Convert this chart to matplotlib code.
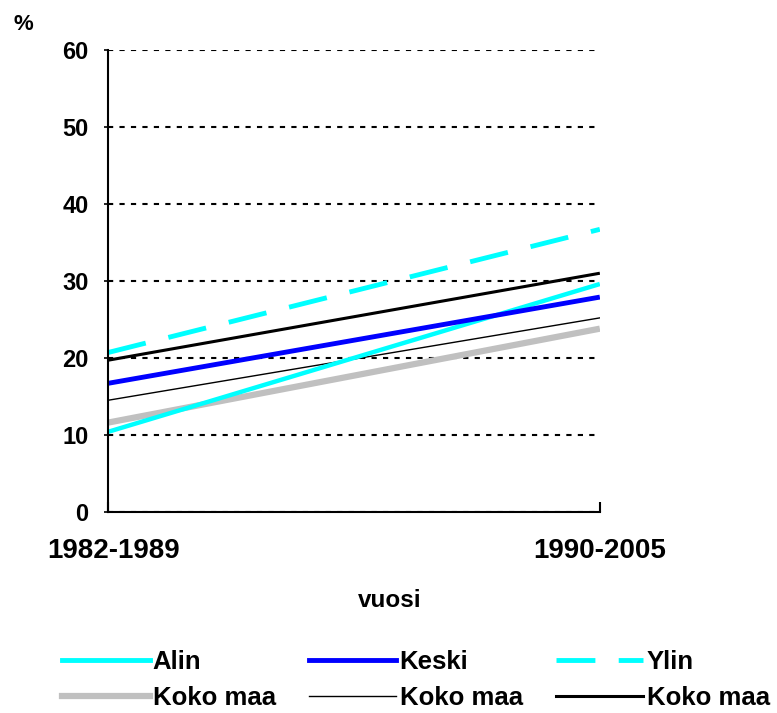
import matplotlib.pyplot as plt
import matplotlib.transforms as mtransforms
from matplotlib.lines import Line2D

plt.rcParams['font.family'] = ['Liberation Sans', 'DejaVu Sans']
plt.rcParams['font.weight'] = 'bold'

periods = ['1982-1989', '1990-2005']
alin = [10.4, 29.6]
keski = [16.7, 27.9]
ylin = [20.7, 36.7]
koko_harmaa = [11.6, 23.8]
koko_ohut = [14.5, 25.2]
koko_musta = [19.7, 31.0]

fig = plt.figure(figsize=(7.77, 7.13), dpi=100)
ax = fig.add_axes([0.139, 0.282, 0.633, 0.648])

x = [0, 1]
ax.plot(x, koko_harmaa, color='#c0c0c0', lw=4.5, solid_capstyle='butt')
ax.plot(x, koko_ohut, color='black', lw=1.0)
ax.plot(x, alin, color='#00ffff', lw=3.2, solid_capstyle='butt')
ax.plot(x, keski, color='#0000ff', lw=3.5, solid_capstyle='butt')
ax.plot(x, koko_musta, color='black', lw=2.2, solid_capstyle='butt')
ax.plot(x, ylin, color='#00ffff', lw=3.5, dashes=(8, 4.8), dash_capstyle='butt')

ax.set_xlim(0, 1)
ax.set_ylim(0, 60)
ax.set_yticks(range(0, 61, 10))
ax.set_xticks(x)
ax.set_xticklabels(periods)
ax.yaxis.grid(True, color='black', linestyle=(0, (2.5, 3)), lw=1.5)
ax.set_axisbelow(True)
for s in ['top', 'right']:
    ax.spines[s].set_visible(False)
ax.spines['left'].set_linewidth(1.5)
ax.spines['bottom'].set_linewidth(1.5)
ax.tick_params(axis='y', direction='out', length=3, width=1.2, labelsize=17, pad=11)
ax.tick_params(axis='x', direction='in', length=7, width=1.5, labelsize=20, pad=19)

# first period label sits a little right of its tick in the original
lbl = ax.get_xticklabels()[0]
lbl.set_transform(lbl.get_transform() + mtransforms.ScaledTranslation(6 / 100, 0, fig.dpi_scale_trans))

fig.text(0.502, 0.1487, 'vuosi', fontsize=17.5, fontweight='bold', ha='center', va='baseline')
fig.text(0.018, 0.966, '%', fontsize=16, fontweight='bold', ha='left', va='center')

handles = [
    Line2D([], [], color='#00ffff', lw=3.5),
    Line2D([], [], color='#c0c0c0', lw=4.5),
    Line2D([], [], color='#0000ff', lw=3.5),
    Line2D([], [], color='black', lw=1.0),
    Line2D([], [], color='#00ffff', lw=3.5, dashes=(8, 4.8)),
    Line2D([], [], color='black', lw=2.2),
]
labels = ['Alin', 'Koko maa', 'Keski', 'Koko maa', 'Ylin', 'Koko maa']
fig.legend(handles, labels, ncol=3, loc='upper left', bbox_to_anchor=(0.080, 0.089),
           frameon=False, fontsize=18.5, handlelength=3.4, handletextpad=0.12,
           columnspacing=1.3, labelspacing=0.5, borderaxespad=0, borderpad=0)

fig.savefig('out.png', dpi=100)
